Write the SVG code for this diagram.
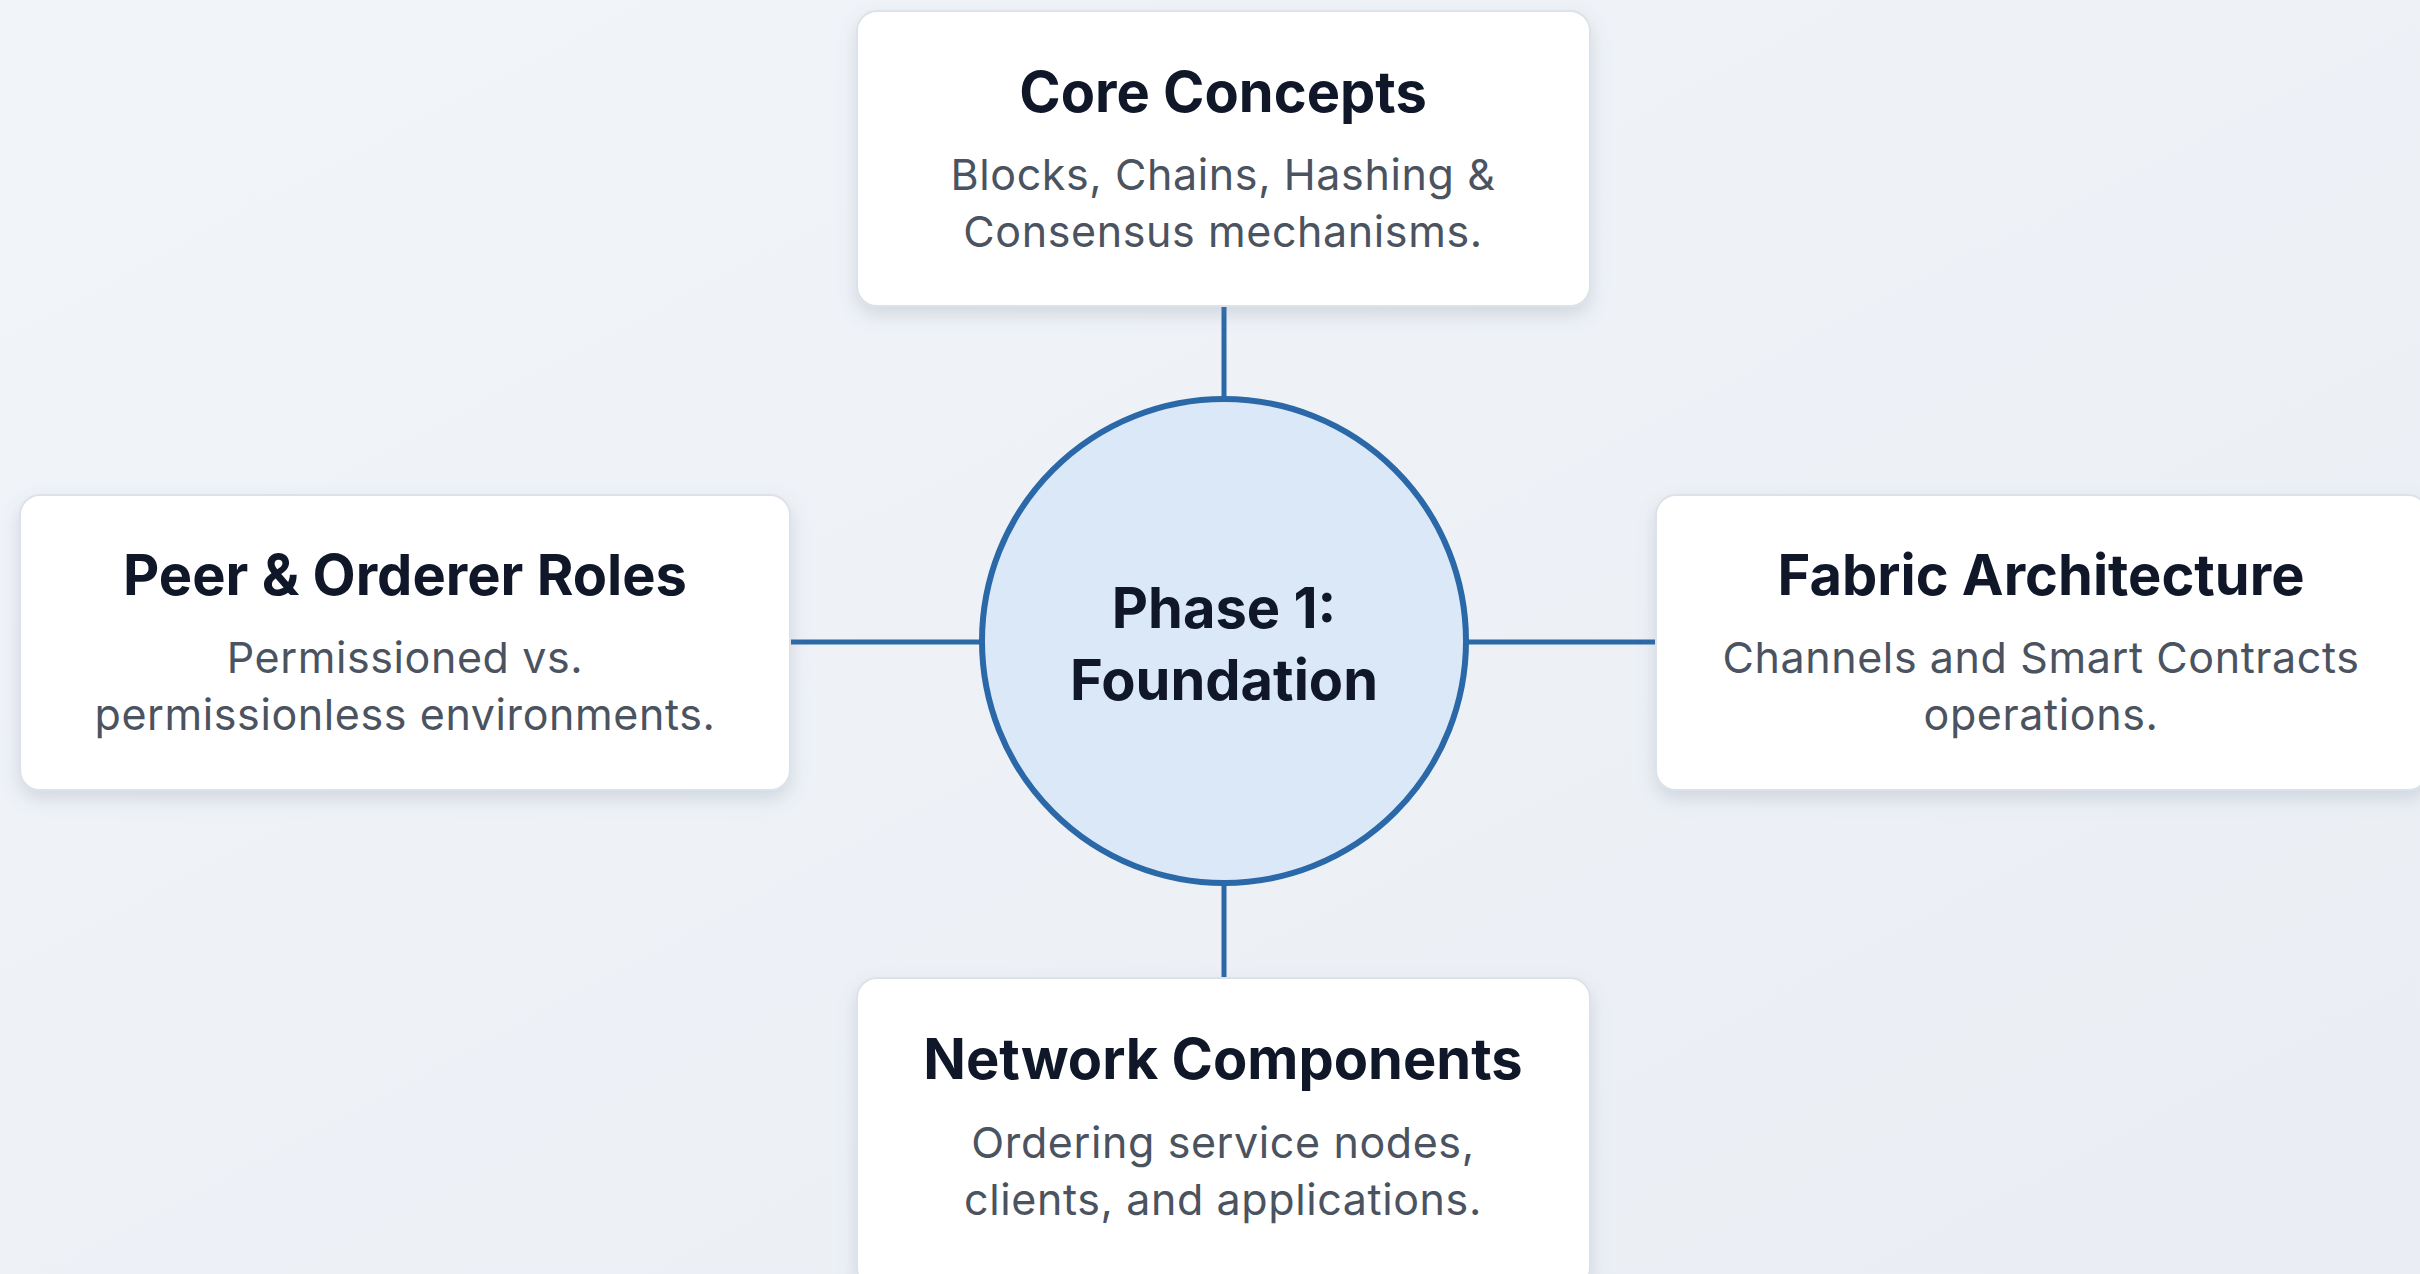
<svg xmlns="http://www.w3.org/2000/svg" width="2420" height="1274" viewBox="0 0 2420 1274">
<defs>
<linearGradient id="bg" x1="0" y1="0" x2="1" y2="1">
<stop offset="0" stop-color="#f1f4f8"/>
<stop offset="1" stop-color="#eaeef4"/>
</linearGradient>
<filter id="shadow" x="-10%" y="-10%" width="120%" height="130%">
<feDropShadow dx="0" dy="8" stdDeviation="9" flood-color="#6b7a90" flood-opacity="0.22"/>
</filter>
<style>
.card{fill:#ffffff;stroke:#dde2e9;stroke-width:2;filter:url(#shadow)}
.title{font-family:Inter,"Noto Sans","Liberation Sans",sans-serif;font-weight:700;font-size:56px;fill:#0f1729;text-anchor:middle}
.sub{font-family:Inter,"Noto Sans","Liberation Sans",sans-serif;font-weight:400;font-size:43px;letter-spacing:0.6px;fill:#4b5360;text-anchor:middle}
.link{stroke:#2b68a8;stroke-width:5;fill:none}
.hub{fill:#dbe8f8;stroke:#2b68a8;stroke-width:6}
</style>
</defs>
<rect x="0" y="0" width="2420" height="1274" fill="url(#bg)"/>
<g id="connectors">
<line class="link" x1="1224" y1="306" x2="1224" y2="400"/>
<line class="link" x1="1224" y1="882" x2="1224" y2="978"/>
<line class="link" x1="790" y1="642" x2="982" y2="642"/>
<line class="link" x1="1466" y1="642" x2="1656" y2="642"/>
</g>
<g id="hub">
<circle class="hub" cx="1224" cy="641" r="242"/>
<text class="title" x="1224" y="628">Phase 1:</text>
<text class="title" x="1224" y="700">Foundation</text>
</g>
<g id="core-concepts">
<rect class="card" x="857" y="11" width="733" height="295" rx="20"/>
<text class="title" x="1223" y="112">Core Concepts</text>
<text class="sub" x="1223" y="190">Blocks, Chains, Hashing &amp;</text>
<text class="sub" x="1223" y="247">Consensus mechanisms.</text>
</g>
<g id="peer-orderer-roles">
<rect class="card" x="20" y="495" width="770" height="295" rx="20"/>
<text class="title" x="405" y="595">Peer &amp; Orderer Roles</text>
<text class="sub" x="405" y="673">Permissioned vs.</text>
<text class="sub" x="405" y="730">permissionless environments.</text>
</g>
<g id="fabric-architecture">
<rect class="card" x="1656" y="495" width="772" height="295" rx="20"/>
<text class="title" x="2041" y="595">Fabric Architecture</text>
<text class="sub" x="2041" y="673">Channels and Smart Contracts</text>
<text class="sub" x="2041" y="730">operations.</text>
</g>
<g id="network-components">
<rect class="card" x="857" y="978" width="733" height="310" rx="20"/>
<text class="title" x="1223" y="1079">Network Components</text>
<text class="sub" x="1223" y="1158">Ordering service nodes,</text>
<text class="sub" x="1223" y="1215">clients, and applications.</text>
</g>
</svg>
